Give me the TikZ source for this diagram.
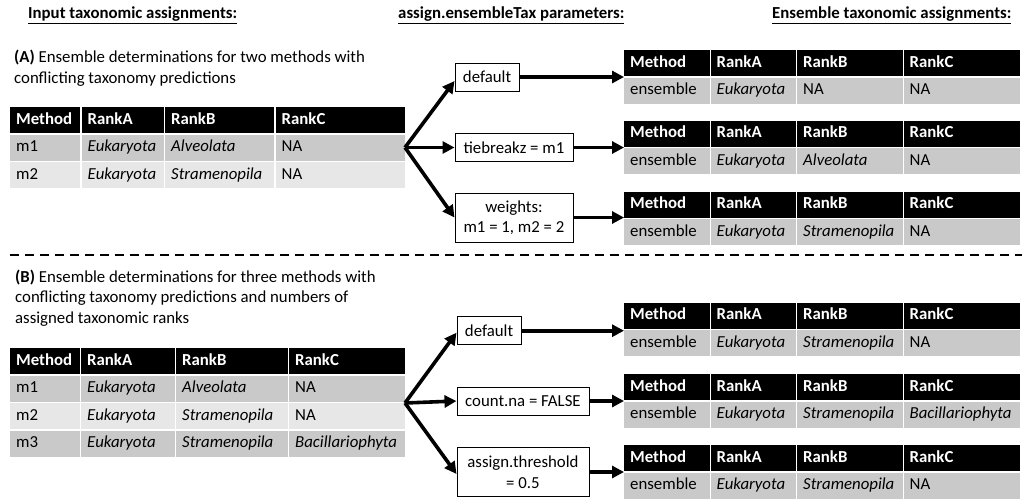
\documentclass[tikz,border=0pt]{standalone}
\usepackage{fontspec}
\setmainfont{Carlito}
\usetikzlibrary{arrows.meta}

\definecolor{rowdark}{RGB}{201,201,201}
\definecolor{rowlight}{RGB}{231,231,231}
\newcommand{\figfont}{\fontsize{16.8}{20.5}\selectfont}

% one table row: prefix, top y, cell style, list of x/width/text
\newcommand{\tabrow}[4]{%
  \foreach \x/\w/\t [count=\i, evaluate=\w as \tw using \w-12] in {#4}
    \node[#3, text width=\tw pt] (#1\i) at (\x,#2) {\t};
}
% ensemble table: prefix, top y, RankA, RankB, RankC
\newcommand{\enstable}[5]{%
  \tabrow{#1h}{#2}{hcell}{624/85.5/Method, 710.5/85.5/RankA, 797/105.5/RankB, 903.5/116/RankC}
  \tabrow{#1r}{#2+27.5}{dcell}{624/85.5/ensemble, 710.5/85.5/#3, 797/105.5/#4, 903.5/116/#5}
}

\begin{document}
\begin{tikzpicture}[
    x=1pt, y=-1pt,
    cell/.style={anchor=north west, minimum height=26pt, inner xsep=6pt, inner ysep=0pt, align=left, text height=11.5pt, text depth=3.5pt},
    hcell/.style={cell, fill=black, text=white, font=\figfont\bfseries},
    dcell/.style={cell, fill=rowdark, font=\figfont},
    lcell/.style={cell, fill=rowlight, font=\figfont},
    param/.style={draw, line width=0.9pt, inner xsep=8pt, minimum height=28pt, align=center, font=\figfont},
    flow/.style={-{Triangle[length=12pt,width=12pt]}, line width=3.6pt},
    heading/.style={anchor=west, inner sep=0pt, font=\figfont\bfseries},
    note/.style={anchor=west, inner sep=0pt, align=left, font=\figfont},
]
\useasboundingbox (0,0) rectangle (1032,498);

% Column headings
\node[heading] (inHead) at (28,15) {\underline{Input taxonomic assignments:}};
\node[heading] (parHead) at (398,15) {\underline{assign.ensembleTax parameters:}};
\node[heading] (outHead) at (772,15) {\underline{Ensemble taxonomic assignments:}};

% (A) two methods
\node[note] (noteA) at (14,68) {\textbf{(A)} Ensemble determinations for two methods with\\conflicting taxonomy predictions};
\tabrow{inAh}{107}{hcell}{10/70/Method, 81.5/82/RankA, 165/109/RankB, 275.5/129.5/RankC}
\tabrow{inAa}{134.5}{dcell}{10/70/m1, 81.5/82/\textit{Eukaryota}, 165/109/\textit{Alveolata}, 275.5/129.5/NA}
\tabrow{inAb}{162}{lcell}{10/70/m2, 81.5/82/\textit{Eukaryota}, 165/109/\textit{Stramenopila}, 275.5/129.5/NA}

\node[param, anchor=west] (defA) at (454.5,77) {default};
\node[param, anchor=west, minimum width=118] (tieA) at (454.5,147.5) {tiebreakz = m1};
\node[param, anchor=west, minimum width=118, minimum height=49] (wtA) at (454.5,217.5) {weights:\\m1 = 1, m2 = 2};

\enstable{outA1}{50}{\textit{Eukaryota}}{NA}{NA}
\enstable{outA2}{120.7}{\textit{Eukaryota}}{\textit{Alveolata}}{NA}
\enstable{outA3}{191.7}{\textit{Eukaryota}}{\textit{Stramenopila}}{NA}

\coordinate (srcA) at (405,147.5);
\draw[flow] (srcA) -- ([yshift=-4pt]defA.west);
\draw[flow] (srcA) -- (tieA.west);
\draw[flow] (srcA) -- (wtA.west);
\draw[flow] (defA.east) -- (defA.east -| outA1h1.south west);
\draw[flow] (tieA.east) -- (tieA.east -| outA2h1.south west);
\draw[flow] (wtA.east) -- (wtA.east -| outA3h1.south west);

% Separator
\draw[line width=1.8pt, dash pattern=on 9pt off 6pt] (10,255) -- (1022,255);

% (B) three methods
\node[note] (noteB) at (15,298) {\textbf{(B)} Ensemble determinations for three methods with\\conflicting taxonomy predictions and numbers of\\assigned taxonomic ranks};
\tabrow{inBh}{348}{hcell}{10/69.5/Method, 81/93.5/RankA, 176/111.5/RankB, 289/116/RankC}
\tabrow{inBa}{375.5}{dcell}{10/69.5/m1, 81/93.5/\textit{Eukaryota}, 176/111.5/\textit{Alveolata}, 289/116/NA}
\tabrow{inBb}{403}{lcell}{10/69.5/m2, 81/93.5/\textit{Eukaryota}, 176/111.5/\textit{Stramenopila}, 289/116/NA}
\tabrow{inBc}{430.5}{dcell}{10/69.5/m3, 81/93.5/\textit{Eukaryota}, 176/111.5/\textit{Stramenopila}, 289/116/\textit{Bacillariophyta}}

\node[param, anchor=west] (defB) at (456.5,330.7) {default};
\node[param, anchor=west, minimum width=132] (cntB) at (456.5,401) {count.na = FALSE};
\node[param, anchor=west, minimum width=132, minimum height=49] (thrB) at (456.5,472) {assign.threshold\\= 0.5};

\enstable{outB1}{302.5}{\textit{Eukaryota}}{\textit{Stramenopila}}{NA}
\enstable{outB2}{374}{\textit{Eukaryota}}{\textit{Stramenopila}}{\textit{Bacillariophyta}}
\enstable{outB3}{445}{\textit{Eukaryota}}{\textit{Stramenopila}}{NA}

\coordinate (srcB) at (405,403);
\draw[flow] (srcB) -- ([yshift=-2pt]defB.west);
\draw[flow] (srcB) -- (cntB.west);
\draw[flow] (srcB) -- ([yshift=-2pt]thrB.west);
\draw[flow] (defB.east) -- (defB.east -| outB1h1.south west);
\draw[flow] (cntB.east) -- (cntB.east -| outB2h1.south west);
\draw[flow] (thrB.east) -- (thrB.east -| outB3h1.south west);

\end{tikzpicture}
\end{document}
